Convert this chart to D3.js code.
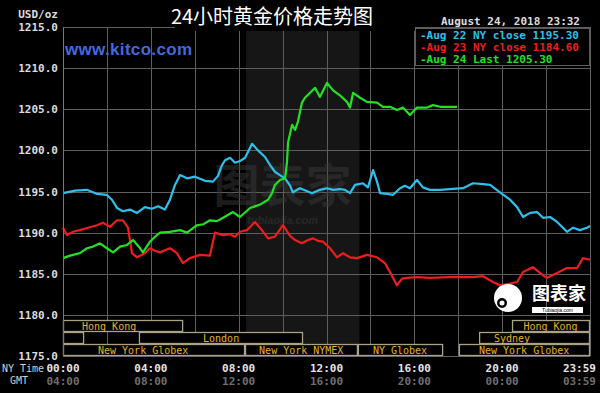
<!DOCTYPE html>
<html><head><meta charset="utf-8">
<script src="https://cdn.jsdelivr.net/npm/d3@7"></script>
<style>
html,body{margin:0;padding:0;background:#000;}
svg{display:block;}
</style></head>
<body>
<svg id="c" width="600" height="393"></svg>
<script>
// ---------- data ----------
const title = "24小时黄金价格走势图";
const dateText = "August 24, 2018 23:32";
const seriesNames = ["Aug 22 NY close 1195.30", "Aug 23 NY close 1184.60", "Aug 24 Last 1205.30"];
const seriesColors = ["#2cc0ea", "#ee1c1c", "#22e022"];
const yTicks = [1175, 1180, 1185, 1190, 1195, 1200, 1205, 1210, 1215];
const xGridHours = [0, 2, 4, 6, 8, 10, 12, 14, 16, 18, 20, 22, 24];
const xTickHours = [0, 4, 8, 12, 16, 20, 23.983];
const xTickNY = ["00:00", "04:00", "08:00", "12:00", "16:00", "20:00", "23:59"];
const xTickGMT = ["04:00", "08:00", "12:00", "16:00", "20:00", "00:00", "03:59"];
const comexHours = [8.333, 13.5];

// [hour (NY time), price]
const aug22 = [[0,1194.8],[0.55,1195.1],[1.09,1195.2],[1.55,1194.7],[1.99,1194.6],[2.23,1194.0],[2.46,1193.0],[2.73,1192.6],[3.05,1192.8],[3.37,1192.4],[3.73,1193.1],[4.05,1192.9],[4.33,1193.2],[4.64,1192.8],[4.87,1194.0],[5.10,1195.8],[5.33,1197.0],[5.65,1196.6],[6.01,1196.8],[6.47,1196.3],[6.83,1196.2],[7.06,1196.9],[7.24,1198.2],[7.38,1198.8],[7.61,1199.1],[7.83,1198.5],[8.06,1198.7],[8.29,1199.1],[8.61,1200.8],[8.88,1200.0],[9.2,1199.2],[9.43,1198.2],[9.65,1197.4],[9.88,1197.0],[10.11,1196.6],[10.34,1195.7],[10.47,1194.9],[10.79,1195.4],[11.07,1195.1],[11.34,1194.8],[11.70,1195.2],[12.02,1195.4],[12.30,1195.2],[12.61,1195.3],[12.84,1195.2],[13.07,1194.8],[13.30,1195.8],[13.66,1196.0],[13.89,1195.5],[14.12,1197.6],[14.30,1196.2],[14.44,1194.8],[14.76,1194.7],[15.03,1194.6],[15.35,1195.4],[15.57,1195.7],[15.80,1195.4],[16.12,1196.4],[16.39,1195.5],[16.71,1195.2],[17.17,1195.2],[17.62,1195.3],[18.22,1195.4],[18.67,1196.0],[19.13,1195.9],[19.45,1195.8],[19.90,1194.9],[20.36,1194.0],[20.68,1193.1],[20.95,1191.9],[21.27,1192.4],[21.59,1192.5],[21.86,1191.8],[22.18,1191.9],[22.50,1191.3],[22.77,1190.6],[22.95,1190.1],[23.23,1190.6],[23.54,1190.3],[23.86,1190.6],[24.0,1190.8]];
const aug23 = [[0,1190.6],[0.18,1189.7],[0.46,1190.1],[0.77,1190.3],[1.14,1190.6],[1.55,1190.9],[1.82,1191.2],[2.14,1190.7],[2.46,1191.5],[2.73,1191.5],[2.96,1190.6],[3.14,1187.5],[3.37,1187.0],[3.73,1187.5],[3.96,1188.1],[4.19,1187.8],[4.42,1187.6],[4.87,1188.1],[5.19,1187.5],[5.46,1186.3],[5.78,1186.9],[6.24,1187.3],[6.69,1187.2],[6.92,1190.0],[7.29,1189.7],[7.61,1189.8],[7.83,1189.5],[8.06,1190.1],[8.38,1190.3],[8.74,1191.3],[9.06,1190.3],[9.34,1189.3],[9.65,1189.5],[10.02,1190.9],[10.34,1189.6],[10.57,1189.1],[10.88,1188.7],[11.16,1189.1],[11.39,1189.3],[11.61,1189.0],[11.84,1188.9],[12.16,1188.1],[12.48,1187.0],[12.75,1187.5],[13.07,1187.0],[13.39,1186.9],[13.84,1187.3],[14.30,1187.0],[14.66,1186.3],[14.89,1185.2],[15.21,1183.6],[15.44,1184.4],[15.67,1184.5],[16.12,1184.6],[16.71,1184.5],[17.62,1184.6],[18.67,1184.6],[19.13,1184.7],[19.58,1184.0],[19.90,1183.6],[20.36,1183.8],[20.68,1184.0],[20.95,1185.2],[21.40,1185.8],[21.86,1184.8],[22.04,1184.5],[22.50,1185.1],[22.95,1185.7],[23.41,1185.7],[23.68,1186.9],[24.0,1186.7]];
const aug24 = [[0,1186.9],[0.32,1187.2],[0.77,1187.5],[1.09,1188.1],[1.37,1188.3],[1.68,1188.7],[2.0,1188.1],[2.28,1187.6],[2.6,1188.3],[2.91,1188.5],[3.19,1189.1],[3.51,1188.1],[3.64,1187.6],[3.96,1188.9],[4.19,1189.5],[4.42,1190.0],[4.87,1190.1],[5.33,1190.3],[5.65,1190.0],[6.10,1190.9],[6.38,1191.0],[6.69,1191.5],[7.01,1191.4],[7.29,1191.8],[7.74,1192.5],[8.06,1191.9],[8.52,1193.0],[8.97,1193.4],[9.34,1194.0],[9.52,1194.8],[9.65,1195.8],[9.88,1196.4],[10.11,1196.6],[10.20,1198.5],[10.25,1201.0],[10.43,1203.1],[10.57,1202.5],[10.70,1203.5],[10.88,1205.8],[11.02,1206.4],[11.25,1207.0],[11.48,1207.6],[11.70,1206.5],[12.02,1208.2],[12.30,1207.3],[12.61,1206.7],[12.93,1205.9],[13.07,1205.2],[13.21,1207.0],[13.53,1206.4],[13.84,1205.9],[14.30,1205.8],[14.57,1205.3],[14.89,1205.3],[15.21,1204.9],[15.48,1205.2],[15.80,1204.3],[16.12,1205.2],[16.58,1205.2],[16.85,1205.5],[17.17,1205.3],[17.94,1205.3]];

// trading sessions: row (0 = top), start hour, end hour, label, label hour
const sessRow   = [0, 0, 1, 1, 1, 2, 2, 2, 2];
const sessStart = [0, 20.45, 0, 3.46, 18.95, 0, 8.29, 13.43, 18.03];
const sessEnd   = [5.47, 24, 0.96, 10.93, 24, 8.29, 13.43, 17.31, 24];
const sessLabel = ["Hong Kong", "Hong Kong", "", "London", "Sydney", "New York Globex", "New York NYMEX", "NY Globex", "New York Globex"];
const sessLabelAt = [2.1, 22.2, null, 7.2, 20.45, 3.65, 10.85, 15.35, 21.0];

// ---------- drawing ----------
const svg = d3.select("#c");
const L = 63, R = 590, T = 27, B = 356;
const x = d3.scaleLinear().domain([0, 24]).range([L, R]);
const y = d3.scaleLinear().domain([1175, 1215]).range([B, T]);
const mono = "'DejaVu Sans Mono', 'Liberation Mono', monospace";

svg.append("rect").attr("width", 600).attr("height", 393).attr("fill", "#000");

// comex shading
svg.append("rect").attr("x", x(comexHours[0])).attr("y", T).attr("width", x(comexHours[1]) - x(comexHours[0]))
  .attr("height", B - T).attr("fill", "#161616");

// grid
const g = svg.append("g").attr("stroke", "#5e5e5e").attr("stroke-width", 1).attr("shape-rendering", "crispEdges");
g.selectAll(".h").data(yTicks).join("line").attr("x1", L).attr("x2", R).attr("y1", d => Math.round(y(d)) + 0.5).attr("y2", d => Math.round(y(d)) + 0.5);
g.selectAll(".v").data(xGridHours).join("line").attr("y1", T).attr("y2", B).attr("x1", d => Math.round(x(d)) + 0.5).attr("x2", d => Math.round(x(d)) + 0.5);

// watermark
svg.append("text").attr("x", x(10.0)).attr("y", 202).attr("text-anchor", "middle")
  .attr("font-family", "'Noto Sans CJK SC'").attr("font-weight", "bold").attr("font-size", 46)
  .attr("fill", "#383838").attr("fill-opacity", 0.5).text("图表家");
svg.append("text").attr("x", x(10.0)).attr("y", 224).attr("text-anchor", "middle")
  .attr("font-family", "'Liberation Sans'").attr("font-style", "italic").attr("font-weight", "bold").attr("font-size", 11)
  .attr("fill", "#383838").attr("fill-opacity", 0.55).text("tubiaojia.com");

// sessions
const rowH = 12, rowTop = B - 3 * rowH;
const sg = svg.append("g");
sessRow.forEach((r, i) => {
  const x0 = x(sessStart[i]), x1 = x(sessEnd[i]);
  sg.append("rect").attr("x", x0 + 0.5).attr("y", rowTop + r * rowH + 0.5).attr("width", x1 - x0 - 1).attr("height", rowH - 1)
    .attr("fill", "#000").attr("stroke", "#a9a285").attr("stroke-width", 1.3);
  if (sessLabel[i]) {
    sg.append("text").attr("x", x(sessLabelAt[i])).attr("y", rowTop + r * rowH + 9.5).attr("text-anchor", "middle")
      .attr("font-family", mono).attr("font-size", 10).attr("fill", "#e5b22c").text(sessLabel[i]);
  }
});

// lines
const line = d3.line().x(d => x(d[0])).y(d => y(d[1]));
[aug22, aug23, aug24].forEach((s, i) => {
  svg.append("path").datum(s).attr("d", line).attr("fill", "none").attr("stroke", seriesColors[i])
    .attr("stroke-width", 2.2).attr("stroke-linejoin", "round");
});

// frame
svg.append("line").attr("x1", L + 0.5).attr("x2", L + 0.5).attr("y1", T).attr("y2", B).attr("stroke", "#777");

// y labels
svg.selectAll(".yl").data(yTicks).join("text").attr("x", 58).attr("y", d => y(d) + 4).attr("text-anchor", "end")
  .attr("font-family", mono).attr("font-weight", "bold").attr("font-size", 11).attr("fill", "#dcdcdc")
  .text(d => d3.format(".1f")(d));
svg.append("text").attr("x", 58).attr("y", 18).attr("text-anchor", "end").attr("font-family", mono)
  .attr("font-weight", "bold").attr("font-size", 11).attr("fill", "#dcdcdc").text("USD/oz");

// x labels
svg.selectAll(".xl").data(xTickHours).join("text").attr("x", (d, i) => i === xTickHours.length - 1 ? 596 : x(d))
  .attr("y", 372).attr("text-anchor", (d, i) => i === xTickHours.length - 1 ? "end" : "middle")
  .attr("font-family", mono).attr("font-weight", "bold").attr("font-size", 11).attr("fill", "#e4e4e4")
  .text((d, i) => xTickNY[i]);
svg.selectAll(".xg").data(xTickHours).join("text").attr("x", (d, i) => i === xTickHours.length - 1 ? 596 : x(d))
  .attr("y", 385).attr("text-anchor", (d, i) => i === xTickHours.length - 1 ? "end" : "middle")
  .attr("font-family", mono).attr("font-weight", "bold").attr("font-size", 11).attr("fill", "#6e6e6e")
  .text((d, i) => xTickGMT[i]);
svg.append("text").attr("x", 2).attr("y", 372).attr("font-family", mono).attr("font-size", 10).attr("fill", "#d0d0d0").text("NY Time");
svg.append("text").attr("x", 10).attr("y", 384).attr("font-family", mono).attr("font-size", 10).attr("fill", "#d0d0d0").text("GMT");

// title box
svg.append("rect").attr("x", 175).attr("y", 0).attr("width", 240).attr("height", 31).attr("fill", "#000");
svg.append("text").attr("x", 272).attr("y", 24).attr("text-anchor", "middle").attr("font-family", "'Noto Sans CJK SC'")
  .attr("font-size", 20).attr("fill", "#fff").text(title);

// kitco
svg.append("text").attr("x", 65).attr("y", 55).attr("font-family", "'Liberation Sans', Arial").attr("font-weight", "bold")
  .attr("font-size", 17).attr("fill", "#4468dc").attr("textLength", 127).text("www.kitco.com");

// date + legend
svg.append("text").attr("x", 580).attr("y", 25).attr("text-anchor", "end").attr("font-family", mono).attr("font-weight", "bold")
  .attr("font-size", 11).attr("fill", "#dcdcdc").text(dateText);
svg.append("rect").attr("x", 415.5).attr("y", 28.5).attr("width", 174).attr("height", 37).attr("fill", "#000").attr("stroke", "#5c5c5c");
seriesNames.forEach((n, i) => {
  svg.append("text").attr("x", 420).attr("y", 39 + i * 12).attr("font-family", mono).attr("font-weight", "bold")
    .attr("font-size", 11).attr("fill", seriesColors[i]).text("-" + n);
});

// logo
const lg = svg.append("g");
lg.append("circle").attr("cx", 508).attr("cy", 298).attr("r", 14).attr("fill", "#fff");
lg.append("circle").attr("cx", 502).attr("cy", 303).attr("r", 5).attr("fill", "#000");
lg.append("circle").attr("cx", 502).attr("cy", 303).attr("r", 2.5).attr("fill", "#fff");
lg.append("text").attr("x", 532).attr("y", 300).attr("font-family", "'Noto Sans CJK SC'").attr("font-weight", "bold")
  .attr("font-size", 18).attr("fill", "#fff").text("图表家");
lg.append("rect").attr("x", 532).attr("y", 307).attr("width", 51).attr("height", 6).attr("fill", "#fff");
lg.append("text").attr("x", 557.5).attr("y", 312).attr("text-anchor", "middle").attr("font-family", "'Liberation Sans'")
  .attr("font-size", 5).attr("fill", "#000").text("Tubiaojia.com");
</script>
</body></html>
